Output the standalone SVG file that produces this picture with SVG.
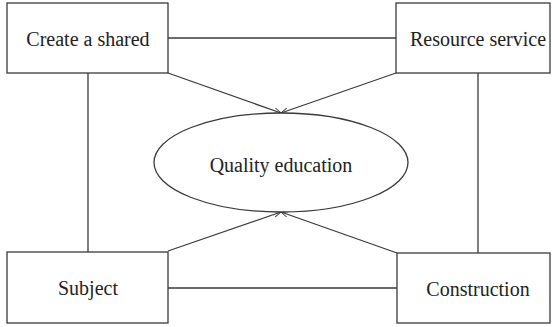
<svg xmlns="http://www.w3.org/2000/svg" width="553" height="327" viewBox="0 0 553 327">
<style>
.box{fill:#fff;stroke:#3a3a3a;stroke-width:1.3}
.ln{fill:none;stroke:#3a3a3a;stroke-width:1.3}
.t{font-family:"Liberation Serif","Times New Roman",serif;font-size:20px;fill:#222;text-anchor:middle}
</style>
<defs>
<marker id="ah" viewBox="0 0 10 10" refX="10" refY="5" markerWidth="7" markerHeight="7" orient="auto" markerUnits="userSpaceOnUse">
<path d="M0,1 L10,5 L0,9" fill="none" stroke="#3a3a3a" stroke-width="1.3"/>
</marker>
</defs>
<rect width="553" height="327" fill="#fff"/>
<g id="connectors">
<line class="ln" x1="168" y1="38" x2="396" y2="38"/>
<line class="ln" x1="168" y1="288" x2="397" y2="288"/>
<line class="ln" x1="88" y1="73" x2="88" y2="252"/>
<line class="ln" x1="478" y1="73" x2="478" y2="253"/>
<line class="ln" x1="168" y1="73" x2="281" y2="113" marker-end="url(#ah)"/>
<line class="ln" x1="396" y1="73" x2="281" y2="113" marker-end="url(#ah)"/>
<line class="ln" x1="168" y1="251" x2="281" y2="212" marker-end="url(#ah)"/>
<line class="ln" x1="397" y1="253" x2="281" y2="212" marker-end="url(#ah)"/>
</g>
<g id="create">
<rect class="box" x="7" y="3" width="161" height="70"/>
<text class="t" x="88" y="46">Create a shared</text>
</g>
<g id="resource">
<rect class="box" x="396" y="3" width="154" height="70"/>
<text class="t" x="478" y="46">Resource service</text>
</g>
<g id="subject">
<rect class="box" x="7" y="252" width="161" height="71"/>
<text class="t" x="88" y="295">Subject</text>
</g>
<g id="construction">
<rect class="box" x="397" y="253" width="153" height="70"/>
<text class="t" x="478" y="296">Construction</text>
</g>
<g id="quality">
<ellipse class="box" cx="281" cy="162.5" rx="127" ry="49.5"/>
<text class="t" x="281" y="172">Quality education</text>
</g>
</svg>
